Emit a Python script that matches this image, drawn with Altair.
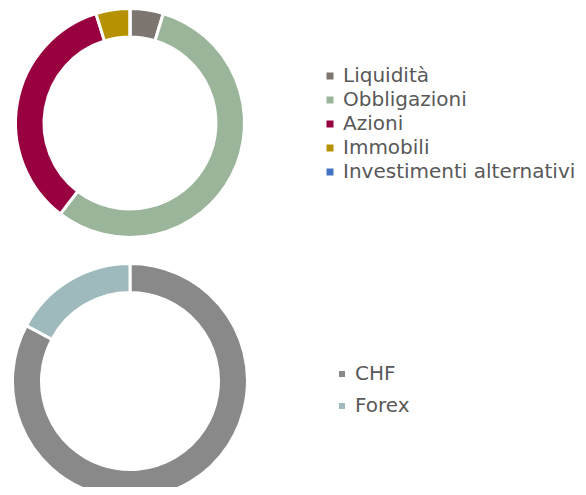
import altair as alt
import pandas as pd

asset_cats = ["Liquidità", "Obbligazioni", "Azioni", "Immobili", "Investimenti alternativi"]
asset_vals = [4.7, 55.7, 34.8, 4.8, 0.0]
asset_colors = ["#7d7570", "#9bb59b", "#98003f", "#b69200", "#4472c4"]

curr_cats = ["CHF", "Forex"]
curr_vals = [82.8, 17.2]
curr_colors = ["#898989", "#9fbabd"]

df_a = pd.DataFrame({"cat": asset_cats, "val": asset_vals, "ord": list(range(len(asset_cats)))})
df_c = pd.DataFrame({"cat2": curr_cats, "val2": curr_vals, "ord2": list(range(len(curr_cats)))})

FONT = "DejaVu Sans"
TXT = "#595959"

top = alt.Chart(df_a).mark_arc(radius=114.5, radius2=86, stroke="white", strokeWidth=3).encode(
    x=alt.value(122),
    y=alt.value(115),
    theta=alt.Theta("val:Q", stack=True),
    order=alt.Order("ord:Q"),
    color=alt.Color(
        "cat:N",
        scale=alt.Scale(domain=asset_cats, range=asset_colors),
        sort=asset_cats,
        legend=alt.Legend(
            title=None, orient="none", legendX=312, legendY=58,
            symbolType="square", symbolSize=49, labelFontSize=20, labelFont=FONT,
            labelColor=TXT, rowPadding=4, labelOffset=3, padding=0,
            symbolStrokeWidth=0, labelLimit=0,
        ),
    ),
)

bottom = alt.Chart(df_c).mark_arc(radius=117.5, radius2=88.5, stroke="white", strokeWidth=3).encode(
    x=alt.value(122),
    y=alt.value(373),
    theta=alt.Theta("val2:Q", stack=True),
    order=alt.Order("ord2:Q"),
    color=alt.Color(
        "cat2:N",
        scale=alt.Scale(domain=curr_cats, range=curr_colors),
        sort=curr_cats,
        legend=alt.Legend(
            title=None, orient="none", legendX=324, legendY=356,
            symbolType="square", symbolSize=36, labelFontSize=20, labelFont=FONT,
            labelColor=TXT, rowPadding=12, labelOffset=3, padding=0,
            symbolStrokeWidth=0, labelLimit=0,
        ),
    ),
)

chart = alt.layer(top, bottom).resolve_scale(color="independent", theta="independent").properties(
    width=570, height=479, autosize=alt.AutoSizeParams(type="none"), padding=0
).configure_view(stroke=None)

chart.save("out.html", embed_options={"renderer": "svg", "actions": False})
